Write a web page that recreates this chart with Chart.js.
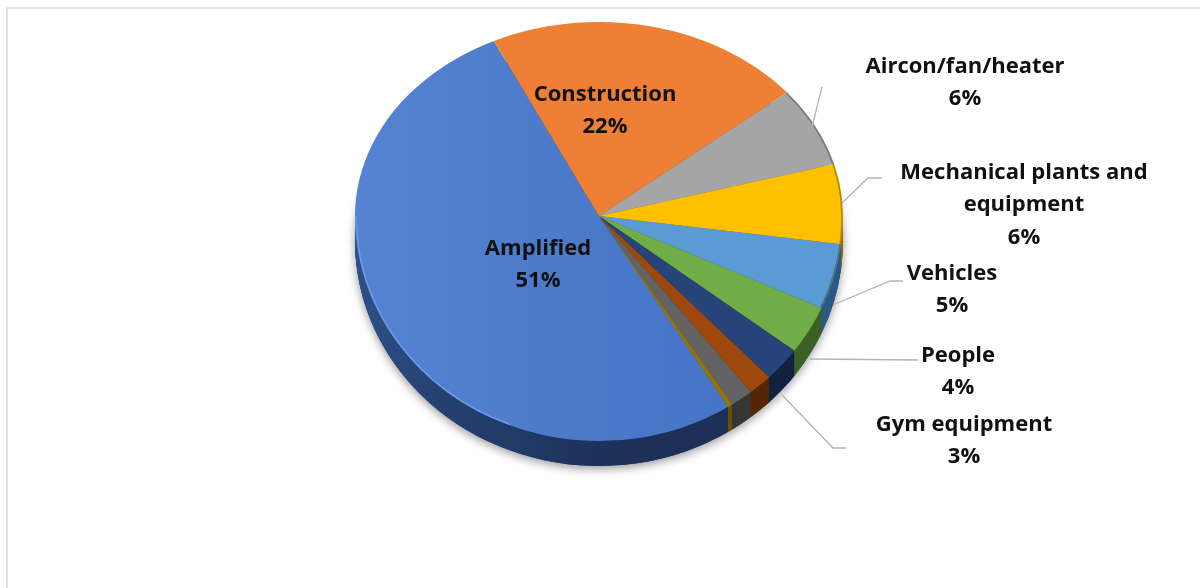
<!DOCTYPE html>
<html>
<head>
<meta charset="utf-8">
<title>Pie chart</title>
<script src="https://cdn.jsdelivr.net/npm/chart.js@4"></script>
<style>
html, body { margin: 0; padding: 0; background: #fff; overflow: hidden; }
#wrap { position: relative; width: 1200px; height: 588px; overflow: hidden; filter: blur(0.6px); }
#frame { position: absolute; left: 6px; top: 7px; width: 1200px; height: 600px; border: 2px solid #e4e4e4; }
canvas { position: absolute; left: 0; top: 0; }
</style>
</head>
<body>
<div id="wrap">
  <div id="frame"></div>
  <canvas id="myChart" width="1200" height="588"></canvas>
</div>
<script>
const categories = ["Amplified", "Construction", "Aircon/fan/heater", "Mechanical plants and equipment", "Vehicles", "People", "Gym equipment", "", "", ""];
// slice shares
const shares = [51.8, 21.1, 6.7, 6.3, 4.7, 3.5, 2.5, 1.6, 1.5, 0.3];
// the percentages printed on the labels
const percentLabels = ["51%", "22%", "6%", "6%", "5%", "4%", "3%", "", "", ""];
const faceColors = ["#4b79ca", "#ef7f35", "#a5a5a5", "#ffc000", "#5b9bd5", "#70ad47", "#264478", "#9e480e", "#636363", "#997300"];
const wallColors = ["#1c3058", "#8a4a1c", "#5f5f5f", "#8f6c00", "#2b5a85", "#3d6026", "#12213f", "#572705", "#363636", "#6b5000"];

// text lines per labelled slice, the last line is the percentage
const labelText = [["Amplified"], ["Construction"], ["Aircon/fan/heater"], ["Mechanical plants and", "equipment"], ["Vehicles"], ["People"], ["Gym equipment"]];
const labelPos = [[538, 248.5], [605, 94.5], [965, 66.5], [1024, 172.5], [952, 273.5], [958, 355.5], [964, 424.5]];
const leaders = [
  [[812, 127], [822, 87]],
  [[842, 203], [868, 178], [882, 178]],
  [[833, 305], [890, 281], [903, 281]],
  [[810, 359], [918, 360]],
  [[782, 395], [833, 448], [846, 448]]
];

const SQUASH_TOP = 0.795;
const SQUASH_BOTTOM = 0.922;
const DEPTH = 25;

// draw one half of the pie squashed, top and bottom differ because of the perspective
function paintHalf(ctx, arcs, cx, cy, upper, yOff) {
  ctx.save();
  ctx.beginPath();
  if (upper) ctx.rect(0, 0, 1200, cy + yOff + 0.5);
  else ctx.rect(0, cy + yOff, 1200, 588);
  ctx.clip();
  ctx.translate(cx, cy + yOff);
  ctx.scale(1, upper ? SQUASH_TOP : SQUASH_BOTTOM);
  ctx.translate(-cx, -cy);
  arcs.forEach(arc => arc.draw(ctx));
  ctx.restore();
}

function rimStroke(ctx, cx, cy, squash, radius, from, to, color) {
  ctx.save();
  ctx.translate(cx, cy);
  ctx.scale(1, squash);
  ctx.beginPath();
  ctx.arc(0, 0, radius, from, to);
  ctx.restore();
  ctx.strokeStyle = color;
  ctx.lineWidth = 1.5;
  ctx.stroke();
}

const pie3d = {
  id: 'pie3d',
  beforeDatasetDraw(chart) {
    const ctx = chart.ctx;
    const arcs = chart.getDatasetMeta(0).data;
    const cx = arcs[0].x;
    const cy = arcs[0].y;
    const r = arcs[0].outerRadius - 1;

    const wallGrad = ctx.createLinearGradient(355, 0, 620, 0);
    wallGrad.addColorStop(0, '#2f4f88');
    wallGrad.addColorStop(0.35, '#24406f');
    wallGrad.addColorStop(1, wallColors[0]);
    const faceGrad = ctx.createLinearGradient(355, 0, 730, 0);
    faceGrad.addColorStop(0, '#5583d2');
    faceGrad.addColorStop(1, '#4674c6');
    const faces = arcs.map(a => a.options.backgroundColor);
    faces[0] = faceGrad;

    arcs.forEach((a, i) => { a.options.backgroundColor = i === 0 ? wallGrad : wallColors[i]; });
    // soft shadow under the body, both halves so it does not stop dead at the middle
    ctx.save();
    ctx.shadowColor = 'rgba(0,0,0,0.4)';
    ctx.shadowBlur = 10;
    ctx.shadowOffsetY = 3;
    paintHalf(ctx, arcs, cx, cy, true, DEPTH);
    paintHalf(ctx, arcs, cx, cy, false, DEPTH);
    ctx.restore();
    for (let off = DEPTH; off >= 1; off--) {
      paintHalf(ctx, arcs, cx, cy, false, off);
    }

    arcs.forEach((a, i) => { a.options.backgroundColor = faces[i]; });
    paintHalf(ctx, arcs, cx, cy, true, 0);
    paintHalf(ctx, arcs, cx, cy, false, 0);

    // bevel: light along the big slice, dark along the right hand slices
    rimStroke(ctx, cx, cy, SQUASH_BOTTOM, r, Math.PI * 0.62, Math.PI, 'rgba(120,165,240,0.7)');
    rimStroke(ctx, cx, cy, SQUASH_TOP, r, arcs[2].startAngle, 0, 'rgba(60,50,20,0.4)');
    rimStroke(ctx, cx, cy, SQUASH_BOTTOM, r, 0, arcs[4].endAngle - Math.PI * 2, 'rgba(60,50,20,0.4)');
    return false;
  },
  afterDatasetsDraw(chart) {
    const ctx = chart.ctx;
    ctx.save();
    ctx.strokeStyle = '#b4b4b4';
    ctx.lineWidth = 1.3;
    leaders.forEach(pts => {
      ctx.beginPath();
      pts.forEach((p, i) => i ? ctx.lineTo(p[0], p[1]) : ctx.moveTo(p[0], p[1]));
      ctx.stroke();
    });
    ctx.fillStyle = '#111';
    ctx.font = 'bold 22px "Open Sans"';
    ctx.textAlign = 'center';
    ctx.textBaseline = 'middle';
    labelText.forEach((lines, k) => {
      lines.concat(percentLabels[k]).forEach((line, i) => {
        ctx.fillText(line, labelPos[k][0], labelPos[k][1] + i * 32.5);
      });
    });
    ctx.restore();
  }
};

new Chart(document.getElementById('myChart'), {
  type: 'pie',
  data: {
    labels: categories,
    datasets: [{
      data: shares,
      backgroundColor: faceColors,
      borderWidth: 0,
      rotation: 148,
      radius: 244,
      clip: false
    }]
  },
  options: {
    responsive: false,
    animation: false,
    layout: { padding: { left: 0, right: 2, top: 0, bottom: 156 } },
    plugins: { legend: { display: false }, tooltip: { enabled: false } }
  },
  plugins: [pie3d]
});
</script>
</body>
</html>
